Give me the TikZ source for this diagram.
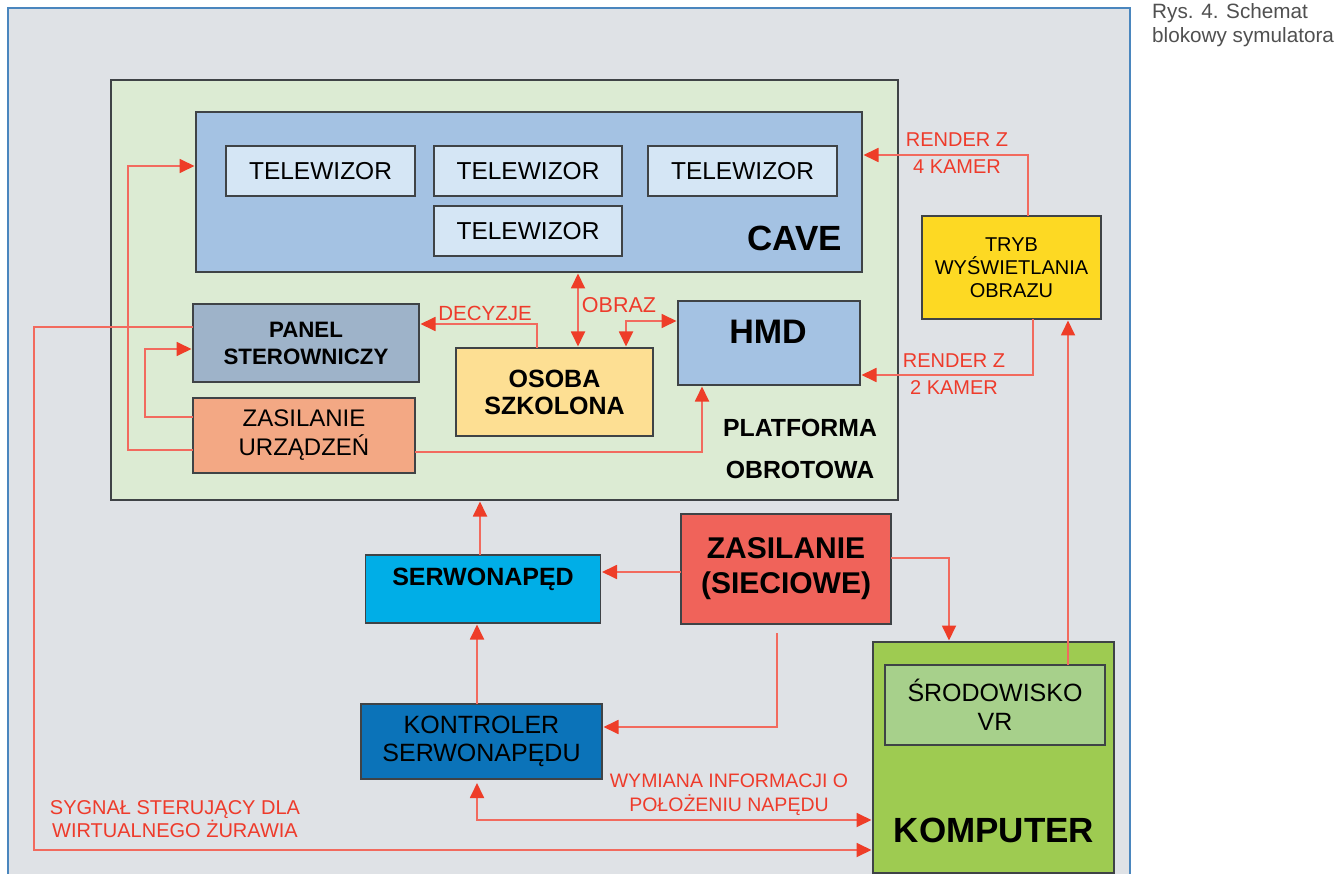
\documentclass[tikz,border=0pt]{standalone}
\usepackage{fontspec}
\setmainfont{Liberation Sans}
\usetikzlibrary{arrows.meta}
\definecolor{bggray}{HTML}{DFE2E6}
\definecolor{framecol}{HTML}{4A86BE}
\definecolor{bordergray}{HTML}{3F4346}
\definecolor{platfill}{HTML}{DCEBD3}
\definecolor{cavefill}{HTML}{A4C2E3}
\definecolor{tvfill}{HTML}{D5E6F5}
\definecolor{panelfill}{HTML}{9EB3C9}
\definecolor{zasufill}{HTML}{F3A884}
\definecolor{osobafill}{HTML}{FDDF93}
\definecolor{trybfill}{HTML}{FDD923}
\definecolor{serwofill}{HTML}{00AEE7}
\definecolor{zassfill}{HTML}{F0635A}
\definecolor{kontfill}{HTML}{0B73B9}
\definecolor{kompfill}{HTML}{9ECB51}
\definecolor{srodfill}{HTML}{A7D08B}
\definecolor{linered}{HTML}{F26A5E}
\definecolor{arrowred}{HTML}{EE3D28}
\definecolor{labelred}{HTML}{EE3B2B}
\definecolor{capgray}{HTML}{505050}
\tikzset{
  blk/.style={draw=bordergray, line width=1.5pt, inner sep=0pt, outer sep=0pt, align=center, text=black},
  txt/.style={inner sep=0pt, outer sep=0pt, align=center, text=black},
  lbl/.style={inner sep=0pt, align=center, text=labelred, font=\fontsize{20}{27}\selectfont},
  conn/.style={draw=linered, line width=1.8pt, shorten >=1.5pt, -{Triangle[length=15pt,width=14pt,color=arrowred]}},
  bconn/.style={draw=linered, line width=1.8pt, shorten >=1.5pt, shorten <=1.5pt, {Triangle[length=15pt,width=14pt,color=arrowred]}-{Triangle[length=15pt,width=14pt,color=arrowred]}},
}
\begin{document}
\begin{tikzpicture}[x=1pt,y=-1pt]
\useasboundingbox (0,0) rectangle (1341,874);
\fill[white] (0,0) rectangle (1341,874);

% outer frame
\node[draw=framecol, line width=2pt, fill=bggray, minimum width=1122pt, minimum height=885pt, inner sep=0pt, anchor=north west] (frame) at (7,7) {};

% caption
\node[inner sep=0pt, anchor=north west, align=left, text=capgray, font=\fontsize{20.7}{24}\selectfont] (caption) at (1152,3) {Rys. 4. Schemat\\blokowy symulatora};

% platform
\node[blk, fill=platfill, minimum width=787pt, minimum height=420pt] (platform) at (504.5,290) {};
\node[txt, font=\bfseries\fontsize{24.8}{42}\selectfont] (plattext) at (800,449) {PLATFORMA\\OBROTOWA};

% CAVE
\node[blk, fill=cavefill, minimum width=666pt, minimum height=160pt] (cave) at (529,192) {};
\node[txt, font=\bfseries\fontsize{35}{40}\selectfont] (cavetext) at (794.5,238) {CAVE};
\node[blk, fill=tvfill, minimum width=189pt, minimum height=50pt, font=\fontsize{24.5}{28}\selectfont] (tv1) at (320.5,171) {TELEWIZOR};
\node[blk, fill=tvfill, minimum width=188pt, minimum height=50pt, font=\fontsize{24.5}{28}\selectfont] (tv2) at (528,171) {TELEWIZOR};
\node[blk, fill=tvfill, minimum width=189pt, minimum height=50pt, font=\fontsize{24.5}{28}\selectfont] (tv3) at (742.5,171) {TELEWIZOR};
\node[blk, fill=tvfill, minimum width=188pt, minimum height=50pt, font=\fontsize{24.5}{28}\selectfont] (tv4) at (528,231) {TELEWIZOR};

% inner blocks
\node[blk, fill=panelfill, minimum width=226pt, minimum height=78pt, font=\bfseries\fontsize{22.3}{27}\selectfont] (panel) at (306,343) {PANEL\\STEROWNICZY};
\node[blk, fill=zasufill, minimum width=222pt, minimum height=75pt, font=\fontsize{24}{29}\selectfont] (zasu) at (304,435.5) {ZASILANIE\\URZĄDZEŃ};
\node[blk, fill=osobafill, minimum width=197pt, minimum height=88pt, font=\bfseries\fontsize{25}{27}\selectfont] (osoba) at (554.5,392) {OSOBA\\SZKOLONA};
\node[blk, fill=cavefill, minimum width=182pt, minimum height=84pt] (hmd) at (769,343) {};
\node[txt, font=\bfseries\fontsize{34}{38}\selectfont] (hmdtext) at (768,332) {HMD};

% right side
\node[blk, fill=trybfill, minimum width=179pt, minimum height=103pt, font=\fontsize{20}{23}\selectfont] (tryb) at (1011.5,267.5) {TRYB\\WYŚWIETLANIA\\OBRAZU};

% lower blocks
\node[blk, fill=serwofill, minimum width=235pt, minimum height=68pt] (serwo) at (483,589) {};
\node[txt, font=\bfseries\fontsize{25}{28}\selectfont] (serwotext) at (483,579) {SERWONAPĘD};
\node[blk, fill=zassfill, minimum width=210pt, minimum height=110pt, font=\bfseries\fontsize{30}{35}\selectfont] (zass) at (786,569) {ZASILANIE\\(SIECIOWE)};
\node[blk, fill=kontfill, minimum width=241pt, minimum height=75pt, font=\fontsize{25}{28}\selectfont] (kontroler) at (481.5,741.5) {KONTROLER\\SERWONAPĘDU};
\node[blk, fill=kompfill, minimum width=241pt, minimum height=231pt] (komputer) at (993.5,757.5) {};
\node[txt, font=\bfseries\fontsize{35}{40}\selectfont] (komptext) at (994,830) {KOMPUTER};
\node[blk, fill=srodfill, minimum width=220pt, minimum height=80pt, font=\fontsize{25}{29}\selectfont] (srod) at (995,705) {ŚRODOWISKO\\VR};

% labels
\node[lbl, font=\fontsize{20.5}{27}\selectfont] (ldec) at (485,313) {DECYZJE};
\node[lbl, font=\fontsize{21.5}{27}\selectfont] (lobr) at (619,305) {OBRAZ};
\node[lbl] (lr4) at (957,153.5) {RENDER Z\\4 KAMER};
\node[lbl] (lr2) at (954,374.5) {RENDER Z\\2 KAMER};
\node[lbl, font=\fontsize{19.5}{24}\selectfont] (lwym) at (729,795) {WYMIANA INFORMACJI O\\POŁOŻENIU NAPĘDU};
\node[lbl, font=\fontsize{20}{23}\selectfont] (lsyg) at (175,819.5) {SYGNAŁ STERUJĄCY DLA\\WIRTUALNEGO ŻURAWIA};

% connectors
\draw[conn] (zasu.west |- 0,450) -- (128,450) -- (128,166) -- (cave.west |- 0,166);
\draw[conn] (zasu.west |- 0,417) -- (145,417) -- (145,349) -- (panel.west |- 0,349);
\draw[conn] (panel.west |- 0,327) -- (34,327) -- (34,850) -- (komputer.west |- 0,850);
\draw[conn] (osoba.north -| 537,0) -- (537,324) -- (panel.east |- 0,324);
\draw[bconn] (cave.south -| 578,0) -- (osoba.north -| 578,0);
\draw[bconn] (osoba.north -| 626,0) -- (626,321) -- (hmd.west |- 0,321);
\draw[conn] (zasu.east |- 0,452) -- (702,452) -- (hmd.south -| 702,0);
\draw[conn] (tryb.north -| 1028,0) -- (1028,155) -- (cave.east |- 0,155);
\draw[conn] (tryb.south -| 1033,0) -- (1033,375) -- (hmd.east |- 0,375);
\draw[conn] (srod.north -| 1068,0) -- (tryb.south -| 1068,0);
\draw[conn] (serwo.north -| 480,0) -- (platform.south -| 480,0);
\draw[conn] (kontroler.north -| 477,0) -- (serwo.south -| 477,0);
\draw[conn] (zass.west |- 0,572) -- (serwo.east |- 0,572);
\draw[conn] (zass.east |- 0,558) -- (949,558) -- (komputer.north -| 949,0);
\draw[conn, shorten <=9pt] (zass.south -| 777,0) -- (777,727) -- (kontroler.east |- 0,727);
\draw[bconn, shorten <=4pt] (kontroler.south -| 477,0) -- (477,820) -- (komputer.west |- 0,820);
\end{tikzpicture}
\end{document}
